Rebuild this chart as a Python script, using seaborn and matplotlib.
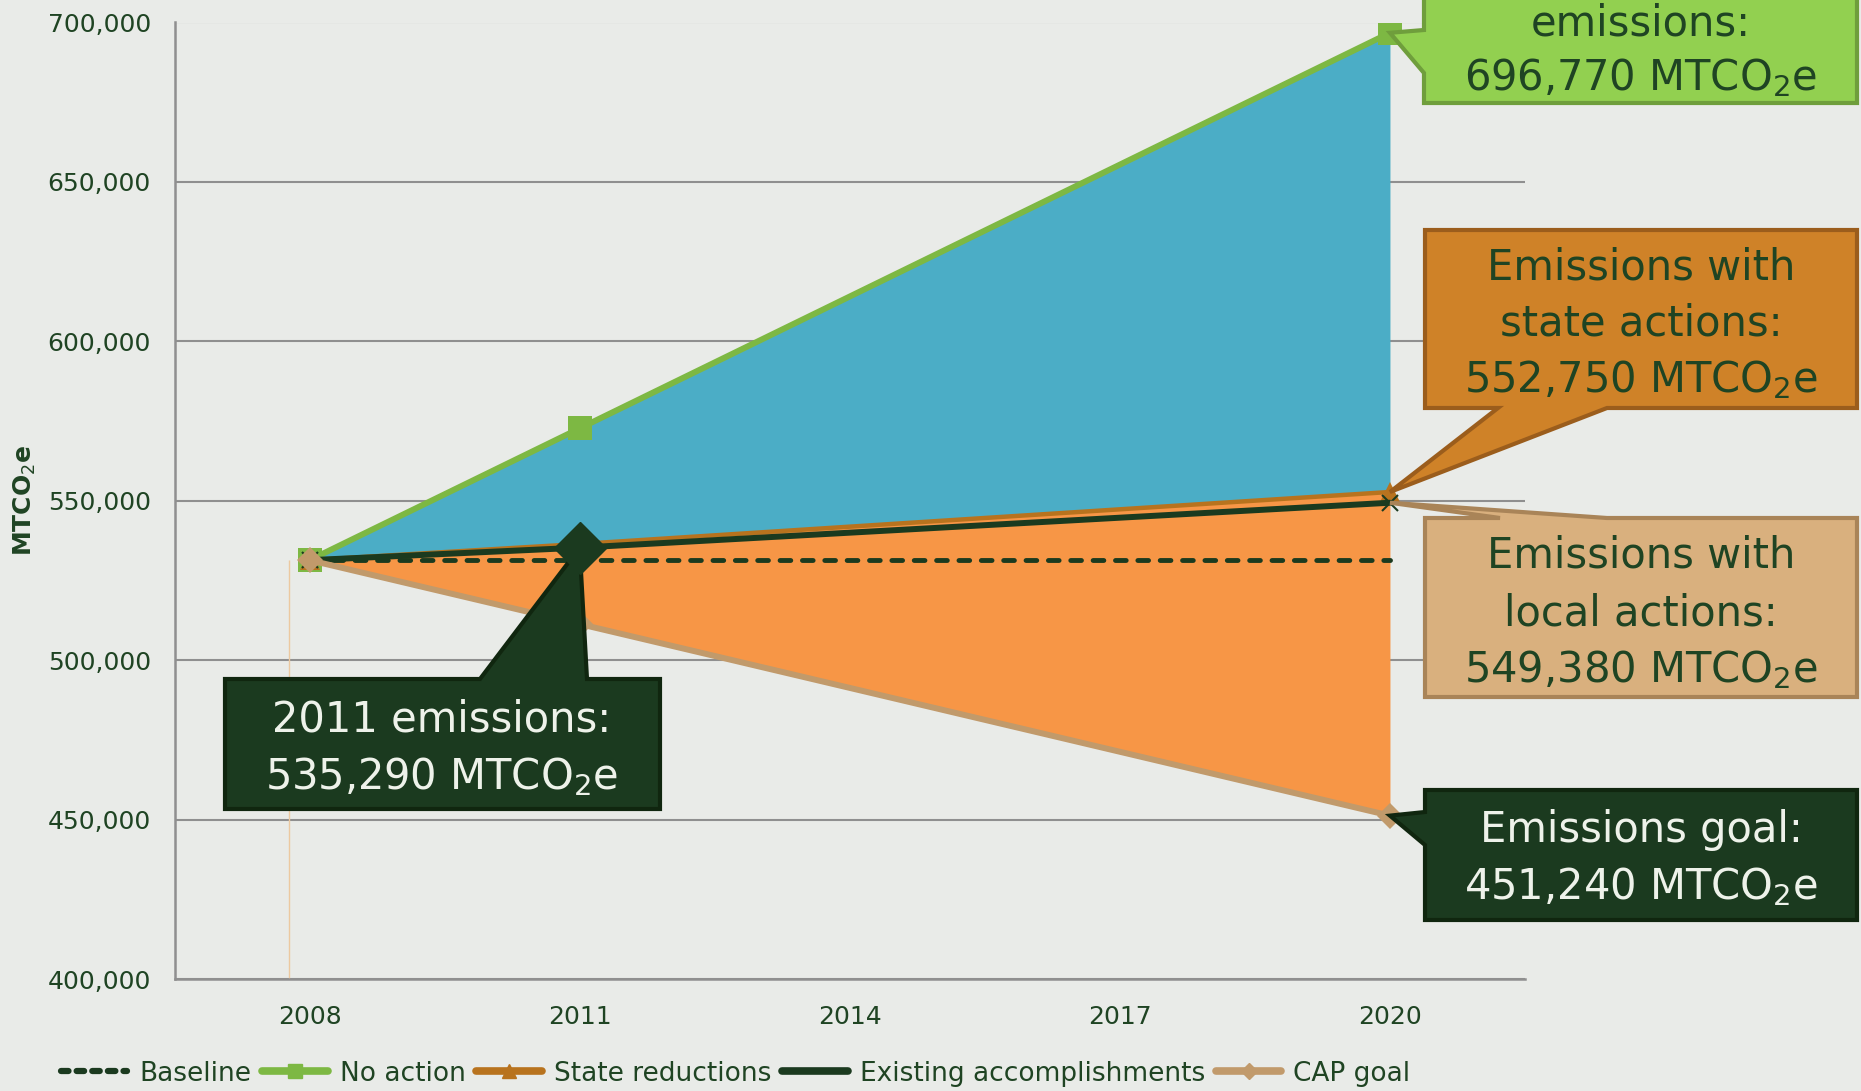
import matplotlib
matplotlib.use('Agg')
import matplotlib.pyplot as plt
from matplotlib.patches import Polygon
from matplotlib.lines import Line2D
import seaborn as sns

sns.set_style('white')
plt.rcParams['font.family'] = ['DejaVu Sans']

# data (MTCO2e)
years = [2008, 2011, 2020]
baseline = [531360, 531360, 531360]
no_action = [531360, 572700, 696770]
state_reductions = [531360, 536440, 552750]
existing = [531360, 535290, 549380]
cap_goal = [531360, 511330, 451240]
tick_years = [2008, 2011, 2014, 2017, 2020]
y_ticks = [400000, 450000, 500000, 550000, 600000, 650000, 700000]

# colours
BG = '#e9ebe8'
GRID = '#8f8f8f'
DARK = '#1b3a1f'
TXT = '#1f4423'
GREEN = '#7db843'
ORANGE_L = '#b8731e'
TAN = '#c19a6b'
BLUE_F = '#4badc6'
ORANGE_F = '#f79646'

W, H = 1861, 1091
fig = plt.figure(figsize=(W / 100, H / 100), dpi=100, facecolor=BG)
ax = fig.add_axes([174.5 / W, 1 - 979 / H, (1525 - 174.5) / W, (979 - 22.5) / H])
ax.set_facecolor(BG)

# shaded wedges
ax.fill_between(years, state_reductions, no_action, color=BLUE_F, lw=0, zorder=1.5)
ax.fill_between(years, cap_goal, state_reductions, color=ORANGE_F, lw=0, zorder=1.5)

# faint vertical edge left of 2008
ax.vlines(years[0] - 0.23, y_ticks[0], baseline[0], color='#ecc9a0', lw=1, zorder=1.6)

sns.lineplot(x=years, y=baseline, ax=ax, color=DARK, lw=3.5, linestyle=(0, (2.2, 2.4)),
             dash_capstyle='round', zorder=2.5)
sns.lineplot(x=years, y=no_action, ax=ax, color=GREEN, lw=4.3, marker='s', markersize=17,
             markeredgewidth=0, markeredgecolor=GREEN, zorder=2.6)
sns.lineplot(x=years, y=state_reductions, ax=ax, color=ORANGE_L, lw=3.2, marker='^',
             markersize=14, markeredgewidth=0, markeredgecolor=ORANGE_L, zorder=2.7)
sns.lineplot(x=years, y=existing, ax=ax, color=DARK, lw=4.3, marker='x', markersize=12,
             markeredgewidth=1.5, markeredgecolor=DARK, zorder=2.8)
sns.lineplot(x=years, y=cap_goal, ax=ax, color=TAN, lw=4.3, marker='D', markersize=13,
             markeredgewidth=0, markeredgecolor=TAN, zorder=2.9)
ax.plot(years[1], existing[1], marker='D', markersize=26, color=DARK, zorder=5)

ax.set_xlim(tick_years[0] - 1.5, tick_years[-1] + 1.5)
ax.set_ylim(y_ticks[0], y_ticks[-1])
ax.set_yticks(y_ticks)
ax.set_yticklabels([f'{v:,}' for v in y_ticks])
ax.set_xticks([y - 1.5 for y in tick_years] + [tick_years[-1] + 1.5])
ax.set_xticklabels([])
ax.set_xticks(tick_years, minor=True)
ax.set_xticklabels([str(y) for y in tick_years], minor=True)
ax.tick_params(axis='x', which='major', length=8, width=1.5, color=GRID, direction='out')
ax.tick_params(axis='x', which='minor', length=0, pad=19, labelsize=18, labelcolor=TXT)
ax.tick_params(axis='y', length=8, width=1.5, color=GRID, direction='out', pad=9,
               labelsize=18, labelcolor=TXT)
ax.grid(axis='y', color=GRID, lw=1.5)
ax.set_axisbelow(True)
sns.despine(ax=ax)
for s in ['left', 'bottom']:
    ax.spines[s].set_color(GRID)
    ax.spines[s].set_linewidth(1.8)
ax.set_ylabel('MTCO$_2$e', fontsize=18, fontweight='bold', color=TXT)
ax.yaxis.set_label_coords(-0.101, 0.5)


# callouts, boxes in figure pixels measured from the top
def fig_frac(x, y_top):
    return (x / W, 1 - y_top / H)


def callout(box, side, base, tip, lines, line_y, cx, fc, ec, tc):
    x0, y0, x1, y1 = box
    dx, dy = ax.transData.transform(tip)
    t = (dx, H - dy)
    a, b = base
    if side == 'top':
        pts = [(x0, y0), (a, y0), t, (b, y0), (x1, y0), (x1, y1), (x0, y1)]
    elif side == 'bottom':
        pts = [(x0, y0), (x1, y0), (x1, y1), (b, y1), t, (a, y1), (x0, y1)]
    else:
        pts = [(x0, y0), (x1, y0), (x1, y1), (x0, y1), (x0, b), t, (x0, a)]
    poly = Polygon([fig_frac(*p) for p in pts], closed=True, fc=fc, ec=ec, lw=3,
                   joinstyle='miter', transform=fig.transFigure, clip_on=False, zorder=4)
    ax.add_artist(poly)
    for txt, yy in zip(lines, line_y):
        ax.text(*fig_frac(cx, yy + 15), txt, transform=fig.transFigure, ha='center',
                va='baseline', fontsize=30, color=tc, zorder=4.5, clip_on=False)


LIGHT = '#eef2ea'
callout((1424, -40, 1857, 103), 'left', (30, 73), (years[2], no_action[2]),
        ['emissions:', '696,770 MTCO$_2$e'], [21, 75], 1641, '#92d050', '#6f9e3c', TXT)
callout((1425, 230, 1857, 408), 'bottom', (1498, 1607), (years[2], state_reductions[2]),
        ['Emissions with', 'state actions:', '552,750 MTCO$_2$e'], [265, 320, 377], 1641,
        '#cf8228', '#9b5d1c', TXT)
callout((1425, 518, 1857, 697), 'top', (1500, 1607), (years[2], existing[2]),
        ['Emissions with', 'local actions:', '549,380 MTCO$_2$e'], [553, 610, 667], 1641,
        '#d9b07e', '#a98458', TXT)
callout((1425, 790, 1857, 920), 'left', (812, 845), (years[2], cap_goal[2]),
        ['Emissions goal:', '451,240 MTCO$_2$e'], [827, 884], 1641, DARK, '#10260f', LIGHT)
callout((225, 679, 660, 809), 'top', (480, 587), (years[1], existing[1]),
        ['2011 emissions:', '535,290 MTCO$_2$e'], [717, 774], 442, DARK, '#10260f', LIGHT)

handles = [
    Line2D([], [], color=DARK, lw=4.5, linestyle=(0, (1.2, 1.3)), dash_capstyle='round'),
    Line2D([], [], color=GREEN, lw=5.5, marker='s', markersize=10, solid_capstyle='round'),
    Line2D([], [], color=ORANGE_L, lw=5.5, marker='^', markersize=10, solid_capstyle='round'),
    Line2D([], [], color=DARK, lw=5.5, solid_capstyle='round'),
    Line2D([], [], color=TAN, lw=5.5, marker='D', markersize=8, solid_capstyle='round'),
]
labels = ['Baseline', 'No action', 'State reductions', 'Existing accomplishments', 'CAP goal']
fig.legend(handles, labels, loc='center left', bbox_to_anchor=(0.033, 0.016), ncol=5,
           frameon=False, fontsize=19, labelcolor=TXT, handlelength=2.5, handletextpad=0.45,
           columnspacing=0.4, borderpad=0, borderaxespad=0)

fig.savefig('out.png', dpi=100, facecolor=BG)
